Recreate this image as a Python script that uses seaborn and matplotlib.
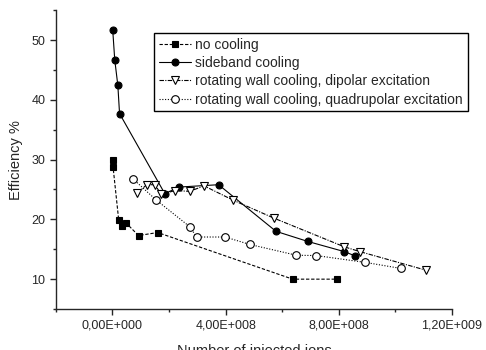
import numpy as np
import pandas as pd
import matplotlib
matplotlib.use('Agg')
import matplotlib.pyplot as plt
from matplotlib.ticker import FuncFormatter, MultipleLocator
import seaborn as sns

# values
no_cool_x = [1e6, 2e6, 2.2e7, 3.4e7, 4.8e7, 9.2e7, 1.6e8, 6.37e8, 7.94e8]
no_cool_y = [30.0, 28.8, 19.9, 18.9, 19.4, 17.3, 17.8, 10.0, 10.0]

sideband_x = [1e6, 8e6, 1.9e7, 2.5e7, 1.85e8, 2.34e8, 3.75e8, 5.78e8, 6.91e8, 8.2e8, 8.57e8]
sideband_y = [51.6, 46.7, 42.4, 37.7, 24.3, 25.4, 25.8, 18.0, 16.3, 14.6, 13.9]

dipolar_x = [8.8e7, 1.21e8, 1.5e8, 1.72e8, 2.2e8, 2.73e8, 3.24e8, 4.27e8, 5.71e8, 8.2e8, 8.75e8, 1.108e9]
dipolar_y = [24.4, 25.8, 25.8, 24.2, 24.8, 24.7, 25.6, 23.2, 20.2, 15.4, 14.6, 11.5]

quad_x = [7.2e7, 1.53e8, 2.75e8, 2.97e8, 3.98e8, 4.86e8, 6.5e8, 7.2e8, 8.94e8, 1.019e9]
quad_y = [26.8, 23.3, 18.7, 17.05, 17.05, 15.8, 14.0, 13.95, 12.8, 11.8]

labels = ['no cooling', 'sideband cooling',
          'rotating wall cooling, dipolar excitation',
          'rotating wall cooling, quadrupolar excitation']

sns.set_style('ticks')
plt.rcParams['font.family'] = ['Liberation Sans', 'DejaVu Sans']
plt.rcParams['axes.linewidth'] = 1.0

fig = plt.figure(figsize=(4.86, 3.5), dpi=100)
ax = fig.add_axes([0.115, 0.117, 0.815, 0.854])

common = dict(ax=ax, color='black', linewidth=0.8, sort=False, estimator=None,
              markeredgecolor='black', markeredgewidth=0.8)

sns.lineplot(x=no_cool_x, y=no_cool_y, label=labels[0], marker='s',
             markersize=4.5, linestyle=(0, (3, 1.6)), **common)
sns.lineplot(x=sideband_x, y=sideband_y, label=labels[1], marker='o',
             markersize=5, linestyle='-', **common)
sns.lineplot(x=dipolar_x, y=dipolar_y, label=labels[2], marker='v',
             markersize=6, markerfacecolor='white', linestyle=(0, (4, 1.2, 1, 1.2)), **common)
sns.lineplot(x=quad_x, y=quad_y, label=labels[3], marker='o',
             markersize=5.5, markerfacecolor='white', linestyle=(0, (1, 1.5)), **common)

ax.set_xlim(-2e8, 1.2e9)
ax.set_ylim(5, 55)
ax.xaxis.set_major_locator(MultipleLocator(4e8))
ax.xaxis.set_minor_locator(MultipleLocator(2e8))
ax.yaxis.set_major_locator(MultipleLocator(10))
ax.yaxis.set_minor_locator(MultipleLocator(5))


def sci_fmt(v, pos):
    if v == 0:
        return '0,00E+000'
    exp = int(np.floor(np.log10(abs(v))))
    mant = v / 10 ** exp
    return ('%.2f' % mant).replace('.', ',') + 'E+%03d' % exp


ax.xaxis.set_major_formatter(FuncFormatter(sci_fmt))
ax.tick_params(which='major', length=4, width=1, labelsize=9, direction='out')
ax.tick_params(which='minor', length=2.5, width=1, direction='out')
sns.despine(ax=ax)

ax.set_xlabel('Number of injected ions', fontsize=10.5, labelpad=9)
ax.set_ylabel('Efficiency %', fontsize=10.5, labelpad=6)

leg = ax.legend(loc='upper left', bbox_to_anchor=(0.247, 0.923), borderaxespad=0,
                fontsize=10, frameon=True, fancybox=False, edgecolor='black',
                handlelength=2.3, handletextpad=0.35, labelspacing=0.3,
                borderpad=0.35)
leg.get_frame().set_linewidth(1.0)
leg.get_frame().set_alpha(1)

fig.savefig('out.png', dpi=100)
